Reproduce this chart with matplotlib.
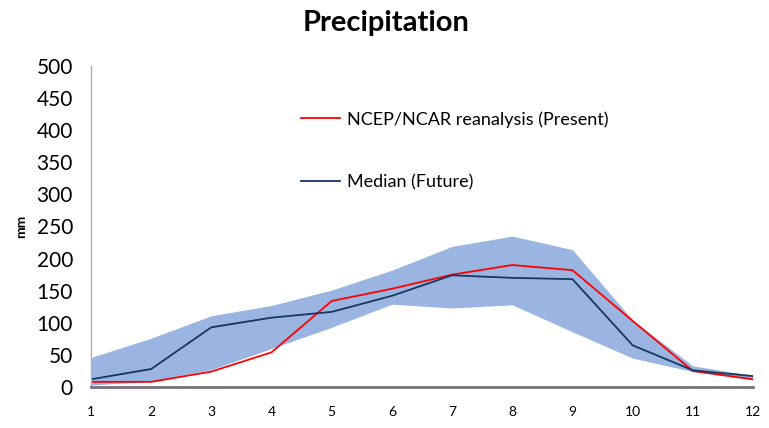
import numpy as np
import matplotlib
matplotlib.use("Agg")
import matplotlib.pyplot as plt

plt.rcParams['font.family'] = ['Lato', 'DejaVu Sans']

months = list(range(1, 13))
month_labels = [str(m) for m in months]

# monthly precipitation (mm)
ncep_present = [8, 8, 24, 54, 134, 153, 175, 190, 182, 103, 25, 12]
median_future = [12, 28, 93, 108, 117, 142, 174, 170, 168, 65, 26, 17]
band_upper = [46, 76, 111, 127, 151, 182, 219, 235, 214, 104, 33, 18]
band_lower = [3, 9, 27, 60, 93, 129, 123, 128, 86, 45, 24, 11]

fig = plt.figure(figsize=(7.69, 4.28), dpi=100)
ax = fig.add_axes([0.1183, 0.0958, 0.8609, 0.75])

ax.fill_between(months, band_lower, band_upper, color="#9AB5E2", linewidth=0)
ax.plot(months, ncep_present, color="#FF0000", linewidth=1.3,
        label="NCEP/NCAR reanalysis (Present)")
ax.plot(months, median_future, color="#17375E", linewidth=1.3,
        label="Median (Future)")

ax.set_xlim(1, 12)
ax.set_ylim(0, 500)
ax.set_xticks(months)
ax.set_xticklabels(month_labels)
ax.set_yticks(np.arange(0, 501, 50))

ax.tick_params(axis="x", length=0, pad=14, labelsize=10)
ax.tick_params(axis="y", length=0, pad=13, labelsize=15)

for s in ["top", "right"]:
    ax.spines[s].set_visible(False)
ax.spines["left"].set_color("#B0B0B0")
ax.spines["left"].set_linewidth(1)
ax.spines["bottom"].set_color("#7B6F7E")
ax.spines["bottom"].set_linewidth(2)

ax.set_ylabel("mm", fontsize=10, fontweight="bold", labelpad=7)
fig.text(0.502, 0.947, "Precipitation", ha="center", va="center",
         fontsize=21, fontweight="bold")

ax.legend(loc="upper left", bbox_to_anchor=(0.292, 0.91), frameon=False,
          fontsize=13, handlelength=2.2, handletextpad=0.4, labelspacing=2.6)

fig.savefig("out.png", dpi=100)
